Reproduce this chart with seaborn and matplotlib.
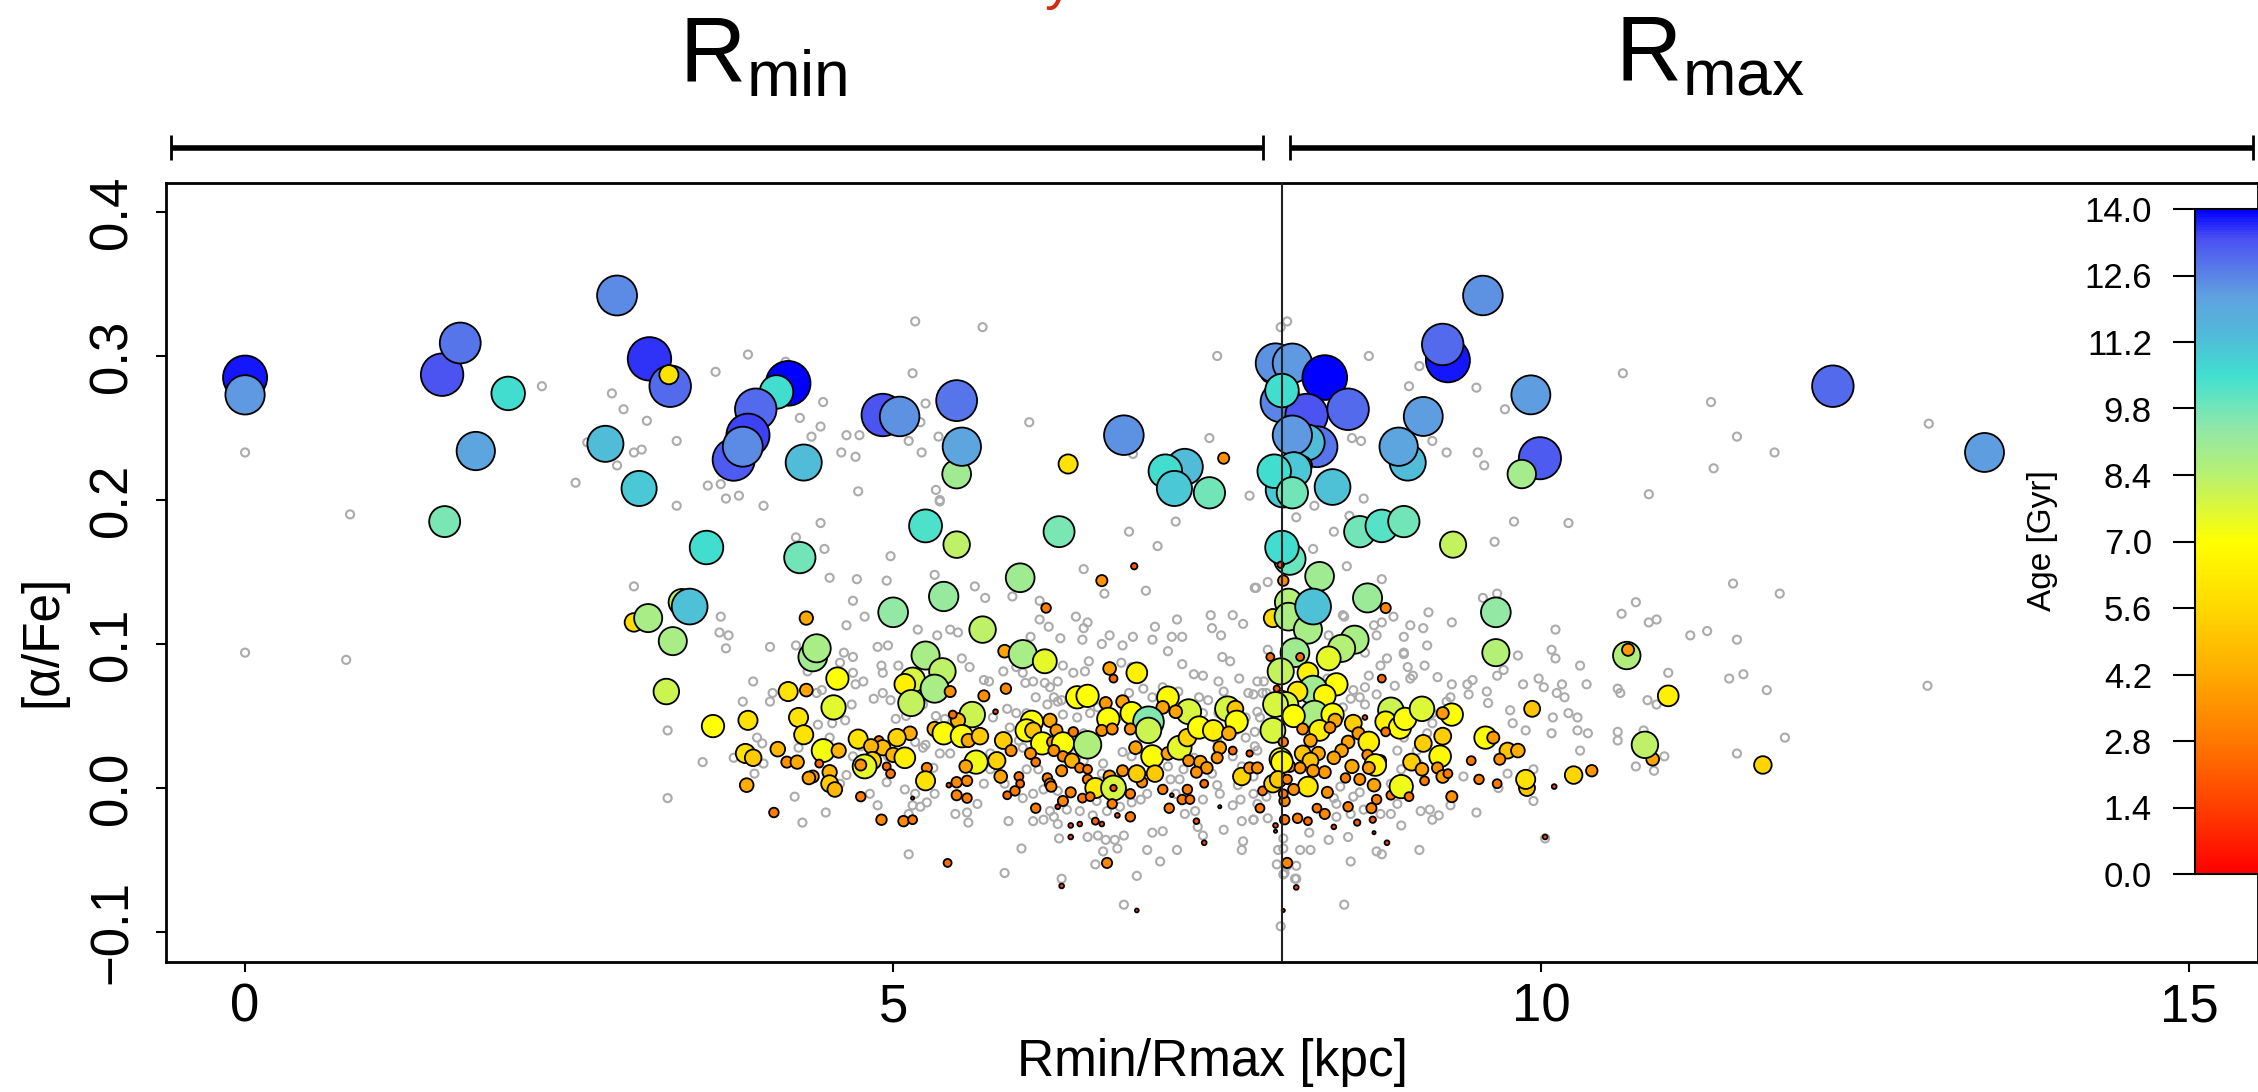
import numpy as np
import pandas as pd
import seaborn as sns
import matplotlib as mpl
import matplotlib.pyplot as plt
from matplotlib.colors import LinearSegmentedColormap, Normalize
from matplotlib.ticker import FuncFormatter

# stars with ages: Rmin/Rmax [kpc], [alpha/Fe], age [Gyr]
star_r = [
    0.00, 0.00, 1.52, 1.66, 2.03, 1.78, 1.54, 2.87, 3.12, 3.28,
    3.27, 2.78, 3.04, 3.56, 4.19, 4.10, 3.94, 3.88, 3.77, 3.84,
    4.31, 4.28, 4.92, 5.05, 5.49, 5.49, 5.53, 5.25, 5.49, 6.35,
    6.78, 7.25, 7.10, 7.17, 7.44, 7.55, 6.28, 5.98, 5.39, 5.00,
    5.69, 6.86, 6.61, 6.18, 7.91, 7.95, 8.08, 8.33, 7.99, 8.19,
    8.00, 8.51, 8.27, 8.19, 8.08, 8.10, 8.16, 8.01, 8.09, 7.94,
    8.08, 8.39, 8.06, 8.00, 8.29, 8.60, 8.77, 8.94, 9.32, 8.66,
    8.80, 8.05, 7.93, 8.05, 8.20, 8.24, 8.56, 8.46, 8.10, 8.36,
    7.91, 8.14, 9.65, 9.65, 10.66, 10.67, 9.55, 9.28, 9.24, 9.92,
    9.09, 8.97, 8.90, 9.99, 9.85, 12.25, 13.42, 11.71, 3.37, 3.43,
    3.00, 3.11, 3.30, 4.33, 4.38, 4.41, 3.25, 3.61, 3.88, 4.19,
    4.33, 4.57, 4.54, 4.27, 4.31, 4.46, 4.58, 3.86, 3.92, 4.11,
    4.18, 4.26, 4.43, 4.38, 4.35, 4.51, 4.51, 4.55, 3.87, 4.08,
    5.86, 6.00, 6.17, 5.25, 5.38, 5.15, 5.09, 5.32, 5.14, 5.44,
    5.70, 5.87, 5.79, 6.67, 6.70, 6.88, 6.42, 6.50, 7.12, 7.28,
    7.18, 7.08, 7.58, 7.64, 7.65, 6.64, 6.77, 6.66, 6.84, 6.97,
    6.97, 6.83, 6.61, 6.69, 5.61, 5.50, 5.46, 5.32, 5.39, 5.53,
    5.58, 5.67, 5.13, 5.03, 4.89, 4.92, 4.73, 4.83, 5.00, 5.09,
    4.84, 4.78, 4.75, 4.95, 4.98, 5.26, 5.25, 4.75, 4.91, 5.08,
    5.15, 5.15, 5.42, 5.43, 5.49, 5.57, 5.49, 5.57, 5.64, 5.56,
    5.80, 5.83, 5.85, 5.91, 5.97, 5.98, 5.94, 5.88, 6.07, 6.03,
    6.08, 6.21, 6.26, 6.15, 6.23, 6.31, 6.39, 6.50, 6.24, 6.06,
    6.10, 6.31, 6.38, 6.44, 6.30, 6.19, 6.21, 6.22, 6.50, 6.50,
    6.56, 6.67, 6.77, 6.70, 6.70, 6.37, 6.31, 6.46, 6.52, 6.69,
    6.83, 6.10, 6.27, 6.37, 6.44, 6.37, 6.56, 6.61, 6.73, 6.83,
    6.65, 6.30, 6.88, 6.87, 6.92, 6.88, 7.00, 7.02, 7.12, 7.08,
    7.13, 7.15, 7.21, 7.27, 7.36, 7.47, 7.59, 7.52, 7.50, 7.37,
    7.42, 7.28, 7.34, 7.40, 7.27, 7.23, 7.29, 7.34, 7.40, 7.52,
    7.62, 7.69, 7.75, 7.75, 7.81, 7.85, 7.83, 7.99, 7.99, 7.93,
    8.01, 7.99, 7.93, 8.04, 8.11, 8.01, 7.95, 8.02, 8.12, 7.95,
    8.02, 8.01, 8.06, 8.01, 7.99, 8.20, 8.42, 8.24, 8.12, 8.33,
    7.96, 8.03, 7.95, 8.25, 8.39, 8.09, 8.41, 8.29, 8.37, 8.16,
    8.55, 8.59, 8.84, 8.80, 8.91, 8.95, 8.80, 9.08, 9.31, 9.24,
    8.70, 8.67, 8.51, 8.22, 8.46, 8.28, 8.16, 8.00, 8.22, 8.40,
    8.66, 8.76, 8.72, 8.54, 8.67, 8.33, 8.24, 8.14, 7.97, 8.04,
    8.20, 8.09, 8.35, 8.49, 8.60, 8.71, 8.84, 8.92, 8.98, 9.09,
    9.24, 9.22, 9.00, 9.08, 9.20, 9.24, 9.28, 9.10, 9.31, 9.46,
    9.57, 9.63, 9.74, 9.82, 9.68, 9.52, 9.66, 9.89, 9.88, 9.93,
    10.10, 10.03, 10.25, 10.39, 10.86, 10.80, 10.98, 8.20, 8.27, 8.33,
    8.40, 8.51, 8.58, 8.70, 8.69, 8.73, 8.81, 8.71, 8.77, 8.64,
]
star_alpha = [
    0.285, 0.273, 0.287, 0.309, 0.274, 0.234, 0.185, 0.342, 0.298, 0.279,
    0.287, 0.239, 0.208, 0.167, 0.281, 0.275, 0.263, 0.245, 0.228, 0.237,
    0.226, 0.160, 0.259, 0.258, 0.269, 0.218, 0.237, 0.182, 0.169, 0.225,
    0.245, 0.223, 0.220, 0.208, 0.205, 0.229, 0.178, 0.146, 0.133, 0.122,
    0.110, 0.154, 0.144, 0.125, 0.288, 0.295, 0.295, 0.285, 0.268, 0.259,
    0.276, 0.263, 0.237, 0.240, 0.245, 0.229, 0.224, 0.207, 0.221, 0.220,
    0.205, 0.209, 0.159, 0.167, 0.147, 0.178, 0.182, 0.185, 0.169, 0.132,
    0.125, 0.129, 0.118, 0.119, 0.110, 0.126, 0.103, 0.097, 0.094, 0.090,
    0.091, 0.091, 0.122, 0.094, 0.092, 0.096, 0.342, 0.297, 0.308, 0.273,
    0.258, 0.226, 0.237, 0.229, 0.218, 0.279, 0.233, 0.016, 0.129, 0.126,
    0.115, 0.118, 0.102, 0.118, 0.091, 0.097, 0.067, 0.043, 0.047, 0.067,
    0.068, 0.076, 0.056, 0.049, 0.037, 0.026, 0.026, 0.024, 0.021, 0.027,
    0.018, 0.018, 0.017, 0.008, 0.007, 0.011, 0.003, -0.001, 0.002, -0.017,
    0.095, 0.093, 0.088, 0.092, 0.081, 0.075, 0.072, 0.069, 0.059, 0.067,
    0.064, 0.069, 0.053, 0.083, 0.076, 0.080, 0.063, 0.064, 0.063, 0.053,
    0.053, 0.056, 0.055, 0.055, 0.046, 0.059, 0.060, 0.048, 0.052, 0.046,
    0.040, 0.041, 0.040, 0.041, 0.051, 0.047, 0.051, 0.041, 0.038, 0.036,
    0.033, 0.036, 0.038, 0.035, 0.033, 0.028, 0.034, 0.029, 0.023, 0.021,
    0.019, 0.015, 0.016, 0.015, 0.010, 0.014, 0.005, -0.006, -0.022, -0.023,
    -0.022, -0.007, -0.052, 0.002, 0.004, 0.005, -0.005, -0.007, 0.018, 0.015,
    0.019, 0.008, 0.033, 0.026, 0.008, 0.003, -0.002, -0.005, 0.046, 0.040,
    0.040, 0.047, 0.040, 0.031, 0.032, 0.031, 0.039, 0.030, 0.026, 0.024,
    0.018, 0.022, 0.019, 0.014, 0.012, 0.007, 0.003, 0.001, 0.013, 0.006,
    0.000, 0.008, 0.012, 0.000, 0.000, -0.003, -0.009, -0.007, -0.006, -0.011,
    -0.004, -0.014, -0.013, -0.026, -0.025, -0.034, -0.023, -0.025, -0.019, -0.020,
    -0.052, -0.068, -0.085, 0.028, 0.004, 0.010, 0.022, 0.010, 0.024, -0.001,
    -0.014, -0.005, 0.028, 0.035, 0.042, 0.040, 0.038, 0.028, 0.021, 0.018,
    0.014, 0.019, 0.011, 0.003, -0.001, -0.008, -0.008, -0.023, -0.038, -0.013,
    0.026, 0.008, 0.024, 0.014, 0.014, -0.002, -0.014, 0.081, 0.059, 0.040,
    0.032, 0.020, 0.003, -0.052, -0.069, -0.085, -0.026, -0.022, -0.021, -0.030,
    -0.009, -0.004, 0.015, 0.144, 0.155, 0.080, 0.072, 0.068, 0.067, 0.064,
    0.069, 0.058, 0.058, 0.051, 0.051, 0.050, 0.047, 0.040, 0.042, 0.041,
    0.045, 0.038, 0.054, 0.046, 0.042, 0.048, 0.039, 0.055, 0.051, 0.052,
    0.032, 0.032, 0.032, 0.033, 0.026, 0.024, 0.024, 0.018, 0.019, 0.021,
    0.023, 0.019, 0.016, 0.015, 0.014, 0.011, 0.012, 0.014, 0.006, 0.006,
    0.001, -0.001, -0.003, 0.007, 0.006, 0.002, -0.005, 0.001, -0.006, 0.031,
    0.036, 0.022, 0.018, 0.013, 0.014, 0.008, 0.010, 0.005, -0.006, 0.019,
    0.035, 0.035, 0.026, 0.026, 0.020, 0.006, 0.003, 0.000, 0.006, 0.055,
    0.001, -0.034, 0.009, 0.012, 0.020, 0.030, 0.064, -0.023, -0.014, -0.018,
    -0.027, -0.013, -0.024, -0.022, -0.014, -0.008, -0.038, -0.031, 0.076, 0.049,
]
star_age = [
    13.8, 12.3, 13.3, 12.8, 10.5, 12.0, 9.7, 12.5, 13.6, 13.0,
    6.0, 11.3, 11.0, 10.5, 14.0, 10.5, 13.0, 13.5, 13.2, 12.5,
    11.3, 9.8, 13.3, 12.4, 12.8, 9.0, 12.0, 10.3, 8.3, 6.0,
    12.4, 11.3, 10.5, 11.0, 9.8, 3.5, 9.7, 9.0, 9.2, 9.3,
    8.3, 2.0, 3.5, 3.0, 6.0, 12.4, 12.3, 14.0, 12.6, 13.3,
    10.5, 13.0, 12.8, 11.3, 12.3, 3.6, 5.8, 11.0, 11.0, 10.5,
    9.8, 11.2, 9.9, 10.5, 9.0, 9.8, 10.2, 9.8, 8.2, 9.1,
    3.2, 8.5, 5.7, 8.7, 8.8, 11.2, 8.8, 8.5, 9.0, 7.5,
    2.5, 2.5, 9.3, 8.5, 8.6, 3.8, 12.4, 13.8, 13.0, 12.2,
    12.2, 11.3, 12.0, 13.2, 8.9, 13.0, 12.2, 5.5, 8.3, 11.2,
    5.8, 8.8, 8.8, 4.2, 9.0, 8.8, 8.0, 7.0, 6.0, 6.0,
    4.0, 7.0, 7.6, 6.0, 6.0, 7.2, 4.5, 6.0, 5.2, 4.6,
    3.5, 4.2, 2.5, 3.8, 4.0, 4.5, 5.3, 4.6, 4.3, 3.0,
    4.0, 8.8, 7.5, 8.8, 8.3, 7.8, 6.5, 8.8, 8.2, 3.5,
    3.5, 3.3, 1.5, 4.0, 2.5, 6.5, 7.0, 7.0, 6.8, 7.8,
    4.0, 4.0, 7.8, 5.0, 7.0, 3.8, 4.0, 7.0, 7.0, 9.6,
    8.0, 3.5, 3.5, 3.5, 8.0, 4.5, 2.5, 4.5, 7.0, 7.0,
    4.2, 5.2, 4.3, 5.5, 2.8, 4.8, 6.0, 4.5, 4.5, 6.5,
    5.5, 7.5, 3.5, 2.5, 2.8, 3.2, 6.0, 3.0, 3.3, 3.3,
    2.8, 1.0, 2.5, 1.5, 3.3, 3.3, 3.2, 3.0, 7.3, 4.0,
    5.4, 4.0, 5.3, 3.5, 2.8, 2.5, 3.0, 2.5, 7.0, 7.0,
    5.0, 4.2, 3.8, 7.0, 3.5, 7.0, 3.0, 8.6, 3.5, 3.5,
    2.8, 3.3, 4.5, 3.0, 3.5, 3.0, 3.3, 3.3, 2.8, 3.0,
    6.3, 3.8, 3.5, 7.8, 2.0, 3.2, 3.2, 2.8, 2.8, 3.0,
    3.0, 3.0, 1.5, 1.5, 1.5, 1.5, 2.2, 1.5, 1.5, 3.0,
    3.2, 1.5, 1.2, 4.0, 3.3, 5.3, 7.0, 5.2, 4.0, 3.0,
    3.0, 1.2, 7.5, 5.5, 7.0, 6.5, 4.3, 4.0, 3.5, 4.0,
    3.7, 3.5, 3.5, 2.5, 3.0, 3.0, 2.8, 1.8, 1.5, 1.0,
    2.5, 5.5, 2.0, 3.5, 3.5, 2.8, 2.8, 8.2, 7.8, 7.8,
    3.0, 7.0, 5.5, 3.2, 1.5, 1.0, 1.5, 3.0, 3.0, 1.0,
    3.3, 2.8, 3.5, 3.3, 2.0, 6.5, 7.0, 9.0, 6.2, 6.8,
    2.0, 7.8, 7.8, 8.7, 7.0, 7.0, 4.2, 6.5, 3.5, 3.5,
    5.3, 3.8, 8.0, 6.5, 7.0, 7.0, 2.8, 7.7, 7.0, 3.8,
    3.3, 6.5, 4.0, 4.0, 4.0, 4.2, 5.0, 6.8, 5.0, 4.0,
    3.3, 3.5, 6.8, 4.2, 3.8, 3.8, 3.8, 3.5, 5.2, 3.0,
    6.2, 3.5, 3.5, 3.0, 3.5, 4.0, 2.8, 7.3, 2.8, 5.3,
    5.3, 6.8, 5.3, 4.0, 3.5, 4.0, 2.8, 2.8, 3.5, 2.8,
    7.0, 3.8, 5.0, 4.3, 3.5, 3.0, 2.8, 5.0, 6.0, 5.0,
    1.5, 1.5, 5.5, 3.6, 4.0, 8.3, 6.5, 2.5, 2.8, 3.2,
    1.5, 3.0, 2.0, 2.0, 3.2, 3.0, 1.5, 1.0, 2.5, 1.5,
]

# full sample without ages (open grey circles)
gray_r = [
    2.29, 0.00, 0.81, 0.00, 0.78, 2.83, 2.92, 3.10, 3.33, 3.06,
    3.00, 2.87, 2.55, 2.64, 3.63, 3.88, 4.17, 4.46, 4.28, 4.44,
    4.37, 4.60, 4.64, 3.57, 3.67, 3.71, 3.81, 3.33, 4.00, 4.44,
    4.25, 4.47, 4.51, 3.00, 3.67, 3.66, 3.73, 3.71, 4.05, 4.25,
    4.64, 3.92, 4.34, 4.62, 4.59, 4.07, 4.05, 3.84, 4.41, 4.45,
    4.42, 4.53, 4.63, 4.51, 3.95, 3.99, 4.27, 3.26, 3.53, 3.77,
    4.00, 3.93, 4.64, 3.26, 4.24, 4.48, 4.30, 4.59, 5.36, 4.98,
    4.72, 4.95, 5.32, 5.63, 5.71, 5.92, 4.69, 4.78, 6.47, 6.63,
    6.95, 6.82, 7.04, 7.18, 6.13, 6.13, 6.20, 6.41, 6.50, 6.47,
    6.29, 6.46, 6.67, 6.61, 6.77, 6.85, 7.02, 7.00, 7.19, 7.15,
    7.23, 7.12, 7.45, 7.62, 7.70, 7.46, 7.53, 7.79, 7.89, 7.54,
    7.60, 7.23, 7.32, 7.39, 7.67, 7.51, 7.81, 7.74, 7.85, 7.83,
    7.72, 7.79, 7.88, 7.55, 7.43, 7.36, 7.20, 7.08, 7.00, 6.93,
    6.82, 6.84, 6.76, 6.51, 6.48, 6.39, 6.31, 6.27, 6.21, 6.17,
    6.24, 6.27, 6.30, 6.19, 6.10, 6.08, 6.02, 5.95, 6.00, 5.85,
    6.06, 6.03, 5.70, 5.74, 5.59, 5.53, 5.44, 5.50, 5.34, 5.19,
    4.88, 4.96, 4.69, 4.91, 4.92, 5.04, 4.69, 4.77, 4.71, 4.85,
    4.98, 4.92, 4.68, 5.02, 5.10, 5.23, 5.33, 5.40, 5.32, 5.25,
    4.75, 4.69, 4.96, 4.95, 5.09, 5.17, 4.82, 4.88, 5.15, 5.26,
    5.21, 5.12, 5.48, 5.57, 5.58, 5.65, 5.32, 5.31, 5.36, 5.44,
    5.75, 5.75, 5.70, 5.86, 6.00, 5.89, 6.08, 6.16, 6.24, 6.27,
    6.21, 6.28, 6.50, 6.58, 6.64, 6.71, 6.78, 6.73, 6.62, 6.56,
    6.96, 7.06, 7.00, 7.08, 7.19, 7.35, 7.39, 7.55, 7.70, 7.69,
    7.69, 7.78, 7.89, 8.01, 8.01, 8.01, 8.04, 8.10, 6.78, 6.88,
    6.30, 5.86, 5.99, 5.12, 7.68, 7.52, 7.62, 7.66, 7.78, 7.78,
    7.33, 7.25, 7.39, 7.18, 7.14, 7.21, 7.50, 7.46, 6.96, 6.91,
    6.84, 6.75, 6.65, 6.54, 6.44, 6.57, 6.34, 6.27, 6.16, 6.08,
    6.12, 6.03, 6.61, 6.62, 7.06, 7.12, 7.24, 7.32, 7.62, 7.69,
    7.50, 7.64, 7.72, 7.51, 7.39, 7.24, 7.01, 6.88, 6.84, 6.77,
    6.47, 6.40, 6.47, 6.31, 6.42, 6.52, 6.58, 6.73, 6.03, 5.95,
    5.88, 5.77, 5.90, 5.97, 6.00, 5.23, 5.17, 5.17, 5.69, 5.15,
    5.25, 5.21, 6.05, 5.35, 5.12, 5.22, 4.74, 4.71, 4.73, 5.33,
    5.36, 6.85, 7.50, 8.04, 7.99, 8.67, 9.06, 8.98, 9.50, 9.72,
    8.61, 8.54, 9.16, 9.27, 9.51, 9.56, 7.44, 7.75, 8.63, 8.25,
    8.11, 8.40, 8.24, 8.50, 8.77, 9.79, 9.64, 10.63, 11.31, 11.51,
    11.33, 10.83, 10.21, 8.52, 7.80, 11.48, 10.73, 10.62, 10.83, 10.89,
    10.11, 10.08, 10.11, 11.15, 11.28, 11.51, 9.66, 9.55, 9.31, 9.13,
    9.09, 8.99, 8.86, 8.77, 8.71, 8.48, 9.12, 8.94, 8.94, 9.82,
    10.30, 10.35, 9.98, 10.02, 10.16, 10.12, 10.18, 9.86, 10.09, 10.21,
    10.28, 10.28, 10.36, 10.08, 9.88, 10.30, 10.59, 10.59, 10.59, 10.61,
    10.82, 10.89, 10.98, 10.79, 10.95, 10.73, 10.87, 11.45, 11.56, 11.51,
    9.94, 9.94, 10.03, 9.74, 9.67, 9.50, 9.40, 9.30, 9.21, 9.14,
    9.07, 9.16, 9.06, 8.92, 8.84, 8.76, 8.73, 8.77, 8.53, 8.48,
    8.51, 8.36, 8.21, 8.14, 8.22, 8.11, 7.96, 8.11, 7.97, 7.99,
    8.02, 7.78, 7.81, 7.88, 8.42, 8.42, 8.53, 8.63, 8.55, 8.40,
    8.45, 8.60, 8.89, 8.84, 8.92, 9.05, 9.04, 8.89, 8.94, 9.12,
    9.16, 9.16, 9.27, 9.20, 9.31, 9.43, 9.47, 9.58, 9.66, 9.71,
    9.59, 9.76, 9.78, 9.44, 9.30, 9.10, 8.97, 8.94, 9.01, 8.99,
    8.87, 8.81, 8.76, 8.67, 8.64, 8.73, 8.60, 8.53, 8.55, 8.64,
    8.47, 8.39, 8.36, 8.47, 8.73, 8.64, 8.35, 7.86, 7.78, 7.88,
    7.81, 7.79, 7.81, 7.89, 11.80, 12.99, 11.84, 11.74, 12.98, 11.88,
]
gray_alpha = [
    0.279, 0.233, 0.190, 0.094, 0.089, 0.274, 0.263, 0.255, 0.241, 0.235,
    0.233, 0.224, 0.212, 0.240, 0.289, 0.301, 0.296, 0.268, 0.257, 0.251,
    0.244, 0.233, 0.245, 0.210, 0.211, 0.201, 0.203, 0.196, 0.196, 0.184,
    0.174, 0.166, 0.146, 0.140, 0.119, 0.108, 0.106, 0.097, 0.098, 0.099,
    0.113, 0.074, 0.081, 0.094, 0.087, 0.066, 0.060, 0.060, 0.066, 0.068,
    0.044, 0.045, 0.047, 0.035, 0.035, 0.031, 0.028, 0.040, 0.018, 0.021,
    0.017, 0.010, 0.009, -0.007, -0.006, -0.017, -0.024, 0.003, 0.199, 0.161,
    0.145, 0.144, 0.148, 0.140, 0.132, 0.133, 0.130, 0.119, 0.152, 0.135,
    0.137, 0.178, 0.168, 0.185, 0.130, 0.117, 0.112, 0.119, 0.115, 0.111,
    0.104, 0.103, 0.106, 0.100, 0.099, 0.105, 0.112, 0.103, 0.117, 0.105,
    0.105, 0.095, 0.120, 0.120, 0.114, 0.111, 0.106, 0.139, 0.143, 0.091,
    0.088, 0.086, 0.079, 0.078, 0.076, 0.074, 0.074, 0.066, 0.066, 0.049,
    0.035, 0.029, 0.038, 0.067, 0.061, 0.063, 0.067, 0.070, 0.063, 0.069,
    0.066, 0.084, 0.087, 0.088, 0.081, 0.080, 0.085, 0.074, 0.070, 0.073,
    0.063, 0.060, 0.061, 0.058, 0.063, 0.074, 0.073, 0.084, 0.080, 0.081,
    0.105, 0.098, 0.075, 0.074, 0.084, 0.090, 0.110, 0.108, 0.106, 0.110,
    0.098, 0.099, 0.091, 0.085, 0.080, 0.085, 0.080, 0.074, 0.072, 0.062,
    0.061, 0.066, 0.058, 0.048, 0.050, 0.058, 0.050, 0.048, 0.038, 0.030,
    0.029, 0.022, 0.022, 0.004, -0.001, -0.004, -0.004, -0.012, -0.012, -0.010,
    -0.013, -0.018, -0.018, -0.017, -0.024, -0.011, -0.004, 0.014, 0.024, 0.024,
    0.024, 0.013, 0.003, 0.003, -0.007, -0.023, -0.023, -0.022, -0.020, -0.025,
    -0.016, -0.035, -0.034, -0.033, -0.036, -0.036, -0.033, -0.042, -0.044, -0.053,
    -0.043, -0.051, -0.031, -0.030, -0.043, -0.027, -0.033, -0.029, -0.037, -0.043,
    -0.023, -0.022, -0.021, -0.035, -0.042, -0.060, -0.054, -0.063, -0.081, -0.061,
    -0.063, -0.059, -0.042, -0.046, -0.008, -0.004, -0.012, 0.002, 0.008, -0.004,
    -0.016, -0.018, -0.008, -0.004, 0.006, 0.006, 0.002, 0.010, -0.004, -0.008,
    -0.010, -0.013, -0.016, -0.019, -0.016, -0.009, -0.015, -0.002, -0.001, -0.004,
    0.013, 0.013, 0.010, 0.017, 0.022, 0.015, 0.013, 0.021, 0.022, 0.015,
    0.033, 0.040, 0.049, 0.052, 0.052, 0.052, 0.040, 0.030, 0.022, 0.025,
    0.019, 0.024, 0.038, 0.051, 0.049, 0.052, 0.056, 0.049, 0.052, 0.052,
    0.055, 0.049, 0.042, 0.033, 0.028, 0.028, 0.032, 0.324, 0.320, 0.288,
    0.267, 0.254, 0.254, 0.244, 0.241, 0.233, 0.245, 0.230, 0.206, 0.207,
    0.200, 0.232, 0.300, 0.324, 0.320, 0.300, 0.293, 0.279, 0.278, 0.263,
    0.241, 0.243, 0.241, 0.233, 0.233, 0.224, 0.243, 0.203, 0.201, 0.196,
    0.188, 0.178, 0.166, 0.154, 0.145, 0.185, 0.171, 0.288, 0.268, 0.244,
    0.222, 0.204, 0.184, 0.189, 0.139, 0.142, 0.129, 0.121, 0.115, 0.117,
    0.110, 0.096, 0.090, 0.106, 0.109, 0.103, 0.135, 0.132, 0.115, 0.122,
    0.111, 0.113, 0.119, 0.115, 0.113, 0.119, 0.099, 0.105, 0.094, 0.092,
    0.085, 0.072, 0.076, 0.070, 0.072, 0.066, 0.063, 0.072, 0.049, 0.052,
    0.049, 0.040, 0.038, 0.038, 0.040, 0.026, 0.039, 0.033, 0.069, 0.066,
    0.061, 0.058, 0.080, 0.040, 0.022, 0.015, 0.012, 0.076, 0.079, 0.024,
    0.013, -0.009, -0.035, 0.010, 0.000, -0.017, 0.008, -0.012, -0.019, -0.015,
    -0.016, -0.022, -0.043, -0.026, -0.018, -0.018, -0.044, -0.046, -0.051, -0.081,
    -0.034, -0.036, -0.031, -0.043, -0.043, -0.054, -0.053, -0.063, -0.043, -0.096,
    -0.059, -0.022, -0.011, -0.006, -0.011, -0.020, -0.018, -0.015, -0.006, -0.007,
    0.001, -0.003, -0.011, 0.003, 0.013, 0.017, 0.026, 0.026, 0.035, 0.038,
    0.045, 0.052, 0.060, 0.077, 0.072, 0.072, 0.075, 0.067, 0.078, 0.082,
    0.059, 0.054, 0.045, 0.065, 0.063, 0.085, 0.084, 0.093, 0.078, 0.076,
    0.071, 0.090, 0.085, 0.078, 0.070, 0.065, 0.063, 0.062, 0.068, 0.058,
    0.056, 0.095, 0.106, 0.120, 0.106, 0.094, 0.076, 0.074, 0.065, 0.066,
    0.053, 0.039, 0.026, 0.096, 0.233, 0.253, 0.135, 0.068, 0.071, 0.035,
]

age_ticks = [0.0, 1.4, 2.8, 4.2, 5.6, 7.0, 8.4, 9.8, 11.2, 12.6, 14.0]
age_colors = ["#ff0000", "#ff4000", "#ff7800", "#ffaa00", "#ffd800", "#ffff00",
              "#b8f070", "#90e8a8", "#40e0d0", "#50bcd8", "#60a0e0", "#5878ea",
              "#4a50f2", "#0000ff"]
age_stops = [0.0, 1.4, 2.8, 4.2, 5.6, 7.0, 8.4, 9.4, 10.5, 11.3, 12.2, 12.8, 13.4, 14.0]

stars = pd.DataFrame({"r": star_r, "alpha": star_alpha, "age": star_age})
gray = pd.DataFrame({"r": gray_r, "alpha": gray_alpha})

sns.set_theme(style="ticks")
plt.rcParams["font.family"] = ["Liberation Sans", "DejaVu Sans"]
plt.rcParams["mathtext.fontset"] = "custom"
plt.rcParams["mathtext.rm"] = "Liberation Sans"
for key in ["text.color", "axes.labelcolor", "xtick.color", "ytick.color",
            "axes.edgecolor"]:
    plt.rcParams[key] = "black"

age_cmap = LinearSegmentedColormap.from_list(
    "age", list(zip(np.array(age_stops) / 14.0, age_colors)))
age_norm = Normalize(0, 14)

# one decimal, real minus sign like the original axis labels
one_dec = FuncFormatter(lambda v, _: f"{v:.1f}".replace("-", "\u2212"))

W, H = 2258, 1092
fig = plt.figure(figsize=(W / 100, H / 100), dpi=100)
ax = fig.add_axes([166 / W, (H - 962) / H, (W - 166) / W, (962 - 183) / H])

# background sample
sns.scatterplot(data=gray, x="r", y="alpha", s=34, facecolor="none",
                edgecolor="#ababab", linewidth=1.5, ax=ax, zorder=2, legend=False)

# stars with ages: colour and size follow age
star_size = (2.3 * stars["age"].to_numpy()) ** 2
sns.scatterplot(data=stars, x="r", y="alpha", hue="age", palette=age_cmap,
                hue_norm=(0, 14), s=star_size, edgecolor="black", linewidth=1.3,
                ax=ax, zorder=3, legend=False)

ax.axvline(8.0, color="#222222", lw=1.5, zorder=4)

ax.set_xlim(-0.61, 15.53)
ax.set_ylim(-0.1208, 0.4201)
ax.set_xticks([0, 5, 10, 15])
ax.set_yticks([-0.1, 0.0, 0.1, 0.2, 0.3, 0.4])
ax.yaxis.set_major_formatter(one_dec)
ax.tick_params(axis="both", direction="out", length=7.5, width=1.5,
               labelsize=38, colors="black")
ax.tick_params(axis="x", pad=7)
ax.tick_params(axis="y", pad=13)
plt.setp(ax.get_yticklabels(), rotation=90, va="center")
for sp in ax.spines.values():
    sp.set_linewidth(2)
    sp.set_color("black")

ax.set_xlabel("Rmin/Rmax [kpc]", fontsize=37)
ax.xaxis.set_label_coords(0.5, -0.098)
ax.set_ylabel("[α/Fe]", fontsize=37)
ax.yaxis.label.set_va("center")
ax.yaxis.set_label_coords(-0.0588, 0.412)

# range markers above the panel
trans = ax.get_xaxis_transform()
for lo, hi in [(-0.57, 7.85), (8.06, 15.49)]:
    ax.plot([lo, hi], [1.045, 1.045], color="black", lw=4, transform=trans,
            clip_on=False, solid_capstyle="butt")
    ax.vlines([lo, hi], 1.0295, 1.0616, color="black", lw=2, transform=trans,
              clip_on=False)
ax.text(4.0, 1.1297, r"$\mathregular{R_{min}}$", fontsize=66, ha="center",
        va="baseline", transform=trans)
ax.text(11.3, 1.1297, r"$\mathregular{R_{max}}$", fontsize=66, ha="center",
        va="baseline", transform=trans)
# red caption that sits mostly above the top edge in the original
fig.text(1059 / W, 1 + 2 / H, "y", color="#d42a10", fontsize=40,
         ha="center", va="baseline")

# colour bar for age
cax = fig.add_axes([2195 / W, (H - 874) / H, 0.04, (874 - 209) / H])
cb = fig.colorbar(mpl.cm.ScalarMappable(norm=age_norm, cmap=age_cmap),
                  cax=cax, ticks=age_ticks)
cb.ax.yaxis.set_ticks_position("left")
cb.ax.yaxis.set_major_formatter(one_dec)
cb.ax.tick_params(labelsize=25, length=16, width=1.5, pad=15, colors="black")
cb.outline.set_linewidth(1.5)
fig.text(2042 / W, 1 - 541 / H, "Age [Gyr]", rotation=90, ha="center",
         va="center", fontsize=24)

fig.savefig("out.png", dpi=100)
